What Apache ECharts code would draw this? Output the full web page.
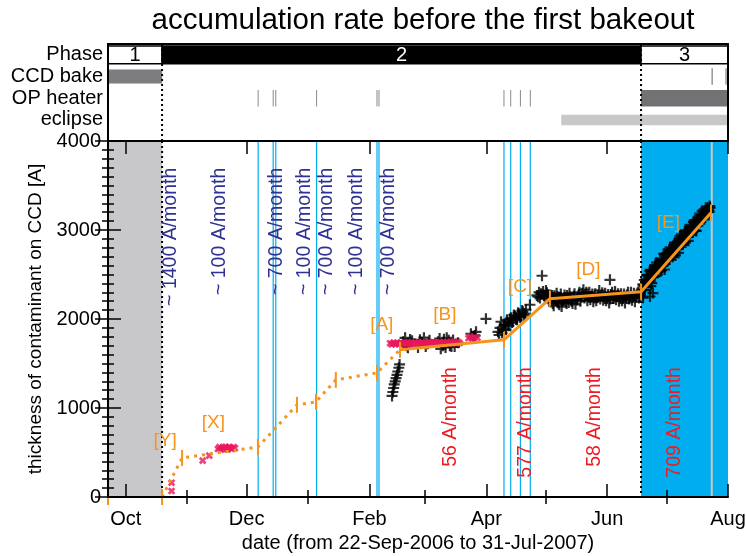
<!DOCTYPE html>
<html>
<head>
<meta charset="utf-8">
<script src="https://cdn.jsdelivr.net/npm/echarts@6/dist/echarts.min.js"></script>
<style>
  html, body { margin: 0; padding: 0; background: #fff; }
  #chart { width: 746px; height: 556px; }
</style>
</head>
<body>
<div id="chart"></div>
<script>
// x is counted in days from 22-Sep-2006
const dayMax = 313;
const monthMajor = [9, 70, 132, 191, 252, 313];
const monthMajorNames = ['Oct', 'Dec', 'Feb', 'Apr', 'Jun', 'Aug'];
const monthMinor = [40, 101, 160, 221, 282];

const phaseEdges = [27.3, 269.1];
const phaseSegs = [[0, 27.3, '1'], [27.3, 269.1, '2'], [269.1, 313, '3']];
const rowNames = ['eclipse', 'OP heater', 'CCD bake', 'Phase'];
const ccdBake = [[0, 27.3]];
const ccdBakeTicks = [305, 312];
const heaterOn = [75.8, 83.4, 84.7, 105.3, 135.8, 136.8, 199.9, 203.3, 208.2, 213.2];
const heaterBar = [[269.1, 313]];
const eclipse = [[228.8, 313]];
const grayLine = [304.8];

// model curve (dotted part, then the fitted segments A..E)
const modelEarly = [[27.3, 0], [37.4, 439], [75.7, 562], [95.4, 1035], [105, 1069], [115, 1316], [135.8, 1395], [147.4, 1654]];
const modelFit = [[147.4, 1654], [199.9, 1766], [223.1, 2228], [269.1, 2306], [304.4, 3195]];
const modelKnots = [[0, 0], [27.3, 0], [37.4, 439], [75.7, 562], [95.4, 1035], [105, 1069], [115, 1316], [135.8, 1395],
  [147.4, 1654], [199.9, 1766], [223.1, 2228], [269.1, 2306], [304.4, 3195]];

// measurements
const redEarly = [[32.1, 161], [32.1, 67], [47.8, 409], [51.1, 465], [55.5, 540], [56.3, 560], [57, 530], [57.8, 555],
  [58.6, 545], [59.4, 565], [60.2, 535], [61, 560], [61.8, 550], [62.6, 540], [63.4, 560], [64.1, 548]];
const redB = [[142.4, 1728], [143.3, 1715], [144.2, 1735], [145.1, 1718], [146, 1732], [146.9, 1716], [147.8, 1736],
  [148.7, 1720], [149.6, 1734], [150.5, 1717], [151.4, 1737], [152.3, 1721], [153.2, 1735], [154.1, 1719], [155, 1738],
  [155.9, 1722], [156.8, 1736], [157.7, 1720], [158.6, 1739], [159.5, 1723], [160.4, 1737], [161.3, 1721], [162.2, 1740],
  [163.1, 1724], [164, 1738], [164.9, 1722], [165.8, 1741], [166.7, 1725], [167.6, 1739], [168.5, 1723], [169.4, 1742],
  [170.3, 1726], [171.2, 1740], [172.1, 1724], [173, 1743], [173.9, 1727], [174.8, 1741], [175.7, 1725], [176.6, 1744],
  [177.5, 1730], [182, 1785], [183, 1800], [184, 1780], [185, 1795], [186.5, 1790]];
const blackFeb = [[143.4, 1136], [143.8, 1180], [144.2, 1225], [144.5, 1265], [145, 1300], [145.4, 1335], [145.9, 1372],
  [146.3, 1410], [146.8, 1452], [147.2, 1490]];
const blackB = [[149, 1744], [150, 1789], [150.8, 1700], [151.4, 1676], [152.5, 1770], [153.5, 1755],
  [156.5, 1680], [157.5, 1766], [158.5, 1735], [159.5, 1790], [160.4, 1690], [161.5, 1721], [162.3, 1760],
  [166.6, 1744], [167.4, 1780], [168, 1665], [169, 1700], [169.6, 1772], [170.4, 1680],
  [171, 1789], [172, 1760], [172.6, 1699], [173.4, 1690], [174.2, 1765], [175, 1690], [176.7, 1732],
  [183.2, 1834], [184.3, 1800], [185.2, 1815], [185.8, 1856], [190.8, 2002]];
const blackC = [[196.9, 1856], [197.4, 1820], [197.9, 1901], [198.4, 1969], [198.9, 1845], [199.4, 1879], [199.9, 1930],
  [200.4, 1935], [200.9, 1880], [201.4, 1991], [201.9, 1950], [202.4, 1924], [202.9, 2000], [203.4, 2014], [203.9, 1960],
  [204.4, 1969], [204.9, 2045], [205.5, 2036], [206, 1995], [206.5, 1991], [207, 2070], [207.5, 2059], [208, 2020],
  [208.5, 2025], [209, 2095], [209.5, 2081], [210, 2040], [210.5, 2059], [211, 2105], [213, 2160], [216.5, 2265],
  [217.1, 2250], [217.6, 2300], [218.1, 2235], [218.6, 2284], [219.1, 2486], [219.6, 2310], [220.1, 2261], [220.6, 2230],
  [221.1, 2320], [221.6, 2295], [222.1, 2270], [222.6, 2250]];
const blackD = [[223.5, 2190], [224.2, 2265], [225, 2150], [225.8, 2230], [226.5, 2290], [227.3, 2180], [228, 2245],
  [229, 2140], [229.8, 2215], [230.5, 2270], [231.5, 2175], [232.3, 2235], [233, 2290], [234, 2200], [235, 2255],
  [236, 2165], [237, 2230], [238, 2300], [239, 2245], [240, 2330], [241, 2270], [242, 2205], [243, 2300], [244, 2255],
  [245, 2195], [246, 2285], [247, 2240], [248, 2320], [249, 2265], [250, 2210], [251, 2290], [252, 2245], [253, 2180],
  [253.4, 2440], [254, 2275], [255, 2230], [256, 2310], [257, 2255], [258, 2200], [259, 2285], [260, 2240], [261, 2180],
  [262, 2270], [263, 2225], [264, 2300], [265, 2250], [266, 2195], [267, 2280], [268, 2235], [268.8, 2310],
  [223.8, 2230], [224.6, 2175], [225.4, 2260], [226.2, 2205], [227, 2250], [227.8, 2160], [228.6, 2280], [229.4, 2190],
  [230.2, 2240], [231, 2205], [231.8, 2265], [232.6, 2185], [233.5, 2250], [234.5, 2175], [235.5, 2285], [236.5, 2215],
  [237.5, 2265], [238.5, 2200], [239.5, 2290], [240.5, 2235], [241.5, 2300], [242.5, 2250], [243.5, 2215], [244.5, 2280],
  [245.5, 2235], [246.5, 2205], [247.5, 2270], [248.5, 2225], [249.5, 2295], [250.5, 2250], [251.5, 2205], [252.5, 2275],
  [253.5, 2225], [254.5, 2300], [255.5, 2260], [256.5, 2215], [257.5, 2285], [258.5, 2245], [259.5, 2205], [260.5, 2280],
  [261.5, 2235], [262.5, 2300], [263.5, 2255], [264.5, 2210], [265.5, 2290], [266.5, 2245], [267.5, 2300], [268.5, 2260]];
const blackE = [[270.1, 2239], [273.6, 2253], [275.1, 2291], [270, 2389], [270.5, 2331], [271, 2324], [271.5, 2446],
  [272, 2489], [272.5, 2422], [273, 2424], [273.5, 2537], [274, 2370], [274.5, 2402], [275, 2545], [275.5, 2517],
  [276, 2480], [276.5, 2592], [277, 2635], [277.5, 2528], [278, 2570], [278.5, 2613], [279, 2536], [279.5, 2548],
  [280, 2651], [280.5, 2733], [281, 2556], [281.5, 2658], [282, 2731], [282.5, 2734], [283, 2666], [283.5, 2669],
  [284, 2762], [284.5, 2754], [285, 2697], [285.5, 2829], [286, 2852], [286.5, 2714], [287, 2787], [287.5, 2850],
  [288, 2742], [288.5, 2815], [289, 2868], [289.5, 2950], [290, 2833], [290.5, 2895], [291, 2958], [291.5, 2860],
  [292, 2933], [292.5, 2996], [293, 2878], [293.5, 2951], [294, 3024], [294.5, 3016], [295, 2979], [295.5, 3091],
  [296, 3094], [296.5, 2996], [297, 2989], [297.5, 3112], [298, 3104], [298.5, 3087], [299, 3100], [299.5, 3132],
  [300, 3215], [300.5, 3207], [301, 3120], [301.5, 3142], [302, 3215], [302.5, 3228], [303, 3210], [303.5, 3203], [304, 3250],
  [270.25, 2375], [270.75, 2438], [271.25, 2360], [271.75, 2433], [272.25, 2495], [272.75, 2418], [273.25, 2481],
  [273.75, 2553], [274.25, 2466], [274.75, 2538], [275.25, 2471], [275.75, 2554], [276.25, 2606], [276.75, 2539],
  [277.25, 2611], [277.75, 2544], [278.25, 2607], [278.75, 2679], [279.25, 2592], [279.75, 2664], [280.25, 2597],
  [280.75, 2660], [281.25, 2732], [281.75, 2665], [282.25, 2737], [282.75, 2670], [283.25, 2743], [283.75, 2805],
  [284.25, 2718], [284.75, 2790], [285.25, 2723], [285.75, 2796], [286.25, 2858], [286.75, 2791], [287.25, 2863],
  [287.75, 2796], [288.25, 2869], [288.75, 2931], [289.25, 2844], [289.75, 2916], [290.25, 2849], [290.75, 2922],
  [291.25, 2984], [291.75, 2917], [292.25, 2989], [292.75, 2922], [293.25, 2995], [293.75, 3057], [294.25, 2970],
  [294.75, 3042], [295.25, 2975], [295.75, 3048], [296.25, 3110], [296.75, 3043], [297.25, 3115], [297.75, 3048],
  [298.25, 3121], [298.75, 3183], [299.25, 3096], [299.75, 3168], [300.25, 3131], [300.75, 3214], [301.25, 3176],
  [301.75, 3249], [302.25, 3191], [302.75, 3254], [303.25, 3227], [303.75, 3269]];

// annotations (data coordinates)
const blueRates = [[31.6, '~ 1400 A/month'], [56.5, '~ 100 A/month'], [85.2, '~ 700 A/month'], [99.4, '~ 100 A/month'],
  [110.4, '~ 700 A/month'], [125.5, '~ 100 A/month'], [141.5, '~ 700 A/month']];
const blueTop = 3700;
const redRates = [[173, '56 A/month'], [210.9, '577 A/month'], [245.8, '58 A/month'], [286.2, '709 A/month']];
const redTop = 1460;
const segLabels = [[28.8, 636, '[Y]'], [53.2, 829, '[X]'], [138.2, 1935, '[A]'], [170.1, 2048, '[B]'],
  [208, 2359, '[C]'], [242.5, 2554, '[D]'], [282.9, 3079, '[E]']];

const FONT = '"Liberation Sans", Arial, Helvetica, sans-serif';
const ORANGE = '#f7941d', CYAN = '#00aeef', NAVY = '#2e3192', RED = '#ed1c24', PINK = '#e8175d';
const plusPath = 'path://M4,0H6V4H10V6H6V10H4V6H0V4H4Z';
const crossPath = 'path://M3.3,0H6.7V3.3H10V6.7H6.7V10H3.3V6.7H0V3.3H3.3Z';

function vLine(color, width, dash, yTop, yBot) {
  return function (params, api) {
    const a = api.coord([api.value(0), yTop]);
    const b = api.coord([api.value(0), yBot]);
    return { type: 'line', shape: { x1: a[0], y1: a[1], x2: b[0], y2: b[1] },
      style: { stroke: color, lineWidth: width, lineDash: dash || null } };
  };
}
function band(color, yTop, yBot) {
  return function (params, api) {
    const a = api.coord([api.value(0), yTop]);
    const b = api.coord([api.value(1), yBot]);
    return { type: 'rect', shape: { x: a[0], y: a[1], width: b[0] - a[0], height: b[1] - a[1] }, style: { fill: color } };
  };
}
const rateText = { blue: blueRates.map(d => d[1]), red: redRates.map(d => d[1]) };
function rotText(color, top) {
  return function (params, api) {
    const p = api.coord([api.value(0), top]);
    return { type: 'text', x: p[0], y: p[1], rotation: Math.PI / 2,
      style: { text: rateText[params.seriesName][params.dataIndex], fill: color, fontSize: 19.5, fontFamily: FONT,
        align: 'right', verticalAlign: 'middle' } };
  };
}

const mainAxis = { xAxisIndex: 0, yAxisIndex: 0 };
const topAxis = { xAxisIndex: 4, yAxisIndex: 2 };

const xBase = { type: 'value', min: 0, max: dayMax, z: 10, splitLine: { show: false },
  axisLine: { show: true, onZero: false, lineStyle: { color: '#000', width: 2 } } };
const majorTick = { show: true, inside: true, length: 13, customValues: monthMajor, lineStyle: { color: '#000', width: 1.5 } };
const minorTickX = { show: true, inside: true, length: 7, customValues: monthMinor, lineStyle: { color: '#000', width: 1.5 } };
const yMain = { type: 'value', gridIndex: 0, min: 0, max: 4000, interval: 1000, z: 10,
  splitLine: { show: false }, minorSplitLine: { show: false },
  axisLine: { show: true, lineStyle: { color: '#000', width: 2 } },
  axisTick: { show: true, inside: true, length: 13, lineStyle: { color: '#000', width: 1.5 } },
  minorTick: { show: true, splitNumber: 10, length: 6, lineStyle: { color: '#000', width: 1.5 } } };
const yTop = { type: 'value', gridIndex: 1, min: -0.47, max: 4, z: 10, splitLine: { show: false },
  axisLine: { show: true, lineStyle: { color: '#000', width: 2 } }, axisTick: { show: false } };

const option = {
  animation: false,
  backgroundColor: '#fff',
  textStyle: { fontFamily: FONT },
  title: { text: 'accumulation rate before the first bakeout', left: 418, top: 1, textAlign: 'center',
    textStyle: { fontSize: 29.5, fontWeight: 'normal', color: '#000', fontFamily: FONT } },
  grid: [
    { left: 108, top: 141, width: 620, height: 356, outerBoundsMode: 'none' },
    { left: 108, top: 44, width: 620, height: 97, outerBoundsMode: 'none' }
  ],
  xAxis: [
    Object.assign({}, xBase, { gridIndex: 0, position: 'bottom', axisTick: majorTick,
      axisLabel: { show: true, customValues: monthMajor, formatter: v => monthMajorNames[monthMajor.indexOf(v)],
        fontSize: 20, color: '#000', margin: 12 },
      name: 'date (from 22-Sep-2006 to 31-Jul-2007)', nameLocation: 'middle', nameGap: 35,
      nameTextStyle: { fontSize: 20, color: '#000' } }),
    Object.assign({}, xBase, { gridIndex: 0, position: 'bottom', axisLine: { show: false }, axisTick: minorTickX, axisLabel: { show: false } }),
    Object.assign({}, xBase, { gridIndex: 0, position: 'top', axisTick: majorTick, axisLabel: { show: false } }),
    Object.assign({}, xBase, { gridIndex: 0, position: 'top', axisLine: { show: false }, axisTick: minorTickX, axisLabel: { show: false } }),
    Object.assign({}, xBase, { gridIndex: 1, position: 'top', axisTick: { show: false }, axisLabel: { show: false } })
  ],
  yAxis: [
    Object.assign({}, yMain, { position: 'left', axisLabel: { fontSize: 20, color: '#000', margin: 7, formatter: v => String(v) },
      name: 'thickness of contaminant on CCD [A]', nameLocation: 'middle', nameGap: 53,
      nameTextStyle: { fontSize: 19, color: '#000' } }),
    Object.assign({}, yMain, { position: 'right', axisLabel: { show: false } }),
    Object.assign({}, yTop, { position: 'left', axisLabel: { customValues: [0.5, 1.5, 2.5, 3.5],
      formatter: v => rowNames[Math.floor(v)], fontSize: 20, color: '#000', margin: 5 } }),
    Object.assign({}, yTop, { position: 'right', axisLabel: { show: false } })
  ],
  series: [
    // background regions of the main panel
    Object.assign({ type: 'custom', z: 1, data: [[0, phaseEdges[0]]], renderItem: band('#c8c8ca', 4000, 0) }, mainAxis),
    Object.assign({ type: 'custom', z: 1, data: [[phaseEdges[1], dayMax]], renderItem: band('#00aeef', 4000, 0) }, mainAxis),
    Object.assign({ type: 'custom', z: 2, data: heaterOn.map(d => [d]), renderItem: vLine(CYAN, 1.2, null, 4000, 0) }, mainAxis),
    Object.assign({ type: 'custom', z: 2, data: grayLine.map(d => [d]), renderItem: vLine('#c8c8c8', 2, null, 4000, 0) }, mainAxis),
    Object.assign({ type: 'custom', z: 3, data: phaseEdges.map(d => [d]), renderItem: vLine('#000', 2, [2, 3], 4000, 0) }, mainAxis),
    // top panel
    Object.assign({ type: 'custom', z: 2, data: phaseSegs, renderItem: function (params, api) {
      const a = api.coord([api.value(0), 3.5 + 0.41]);
      const b = api.coord([api.value(1), 3.5 - 0.41]);
      const dark = params.dataIndex === 1;
      return { type: 'group', children: [
        { type: 'rect', shape: { x: a[0], y: a[1], width: b[0] - a[0], height: b[1] - a[1] },
          style: { fill: dark ? '#000' : '#fff', stroke: '#000', lineWidth: 1.5 } },
        { type: 'text', x: (a[0] + b[0]) / 2, y: (a[1] + b[1]) / 2 + 1,
          style: { text: phaseSegs[params.dataIndex][2], fill: dark ? '#fff' : '#000', fontSize: 20, fontFamily: FONT,
            align: 'center', verticalAlign: 'middle' } }
      ] };
    } }, topAxis),
    Object.assign({ type: 'custom', z: 2, data: ccdBake, renderItem: band('#7d7d80', 2.5 + 0.32, 2.5 - 0.32) }, topAxis),
    Object.assign({ type: 'custom', z: 2, data: ccdBakeTicks.map(d => [d]), renderItem: vLine('#7d7d80', 1.2, null, 2.5 + 0.38, 2.5 - 0.38) }, topAxis),
    Object.assign({ type: 'custom', z: 2, data: heaterOn.map(d => [d]), renderItem: vLine('#8a8a8a', 1, null, 1.5 + 0.38, 1.5 - 0.38) }, topAxis),
    Object.assign({ type: 'custom', z: 2, data: heaterBar, renderItem: band('#727274', 1.5 + 0.38, 1.5 - 0.38) }, topAxis),
    Object.assign({ type: 'custom', z: 2, data: eclipse, renderItem: band('#c8c8c8', 0.5 + 0.24, 0.5 - 0.24) }, topAxis),
    Object.assign({ type: 'custom', z: 3, data: phaseEdges.map(d => [d]), renderItem: vLine('#000', 2, [2, 3], 4, -0.47) }, topAxis),
    // measurements
    Object.assign({ type: 'scatter', z: 4, symbol: plusPath, symbolSize: 11, itemStyle: { color: '#000' },
      data: blackFeb.concat(blackB, blackC, blackD, blackE) }, mainAxis),
    Object.assign({ type: 'scatter', z: 4, symbol: crossPath, symbolRotate: 45, symbolSize: 8, itemStyle: { color: PINK },
      data: redEarly.concat(redB) }, mainAxis),
    // model
    Object.assign({ type: 'line', z: 5, data: modelEarly, showSymbol: false,
      lineStyle: { color: ORANGE, width: 3, type: [3, 5] } }, mainAxis),
    Object.assign({ type: 'line', z: 5, data: modelFit, showSymbol: false,
      lineStyle: { color: ORANGE, width: 3 } }, mainAxis),
    Object.assign({ type: 'custom', z: 5, data: modelKnots, renderItem: function (params, api) {
      const p = api.coord([api.value(0), api.value(1)]);
      return { type: 'line', shape: { x1: p[0], y1: p[1] - 8, x2: p[0], y2: p[1] + 8 }, style: { stroke: ORANGE, lineWidth: 2 } };
    } }, mainAxis),
    // annotations
    Object.assign({ type: 'custom', name: 'blue', z: 6, data: blueRates.map(d => [d[0]]), renderItem: rotText(NAVY, blueTop) }, mainAxis),
    Object.assign({ type: 'custom', name: 'red', z: 6, data: redRates.map(d => [d[0]]), renderItem: rotText(RED, redTop) }, mainAxis),
    Object.assign({ type: 'custom', z: 6, data: segLabels.map(d => [d[0], d[1]]), renderItem: function (params, api) {
      const p = api.coord([api.value(0), api.value(1)]);
      return { type: 'text', x: p[0], y: p[1],
        style: { text: segLabels[params.dataIndex][2], fill: ORANGE, fontSize: 19, fontFamily: FONT, align: 'center', verticalAlign: 'middle' } };
    } }, mainAxis)
  ]
};

const chart = echarts.init(document.getElementById('chart'));
chart.setOption(option);
</script>
</body>
</html>
